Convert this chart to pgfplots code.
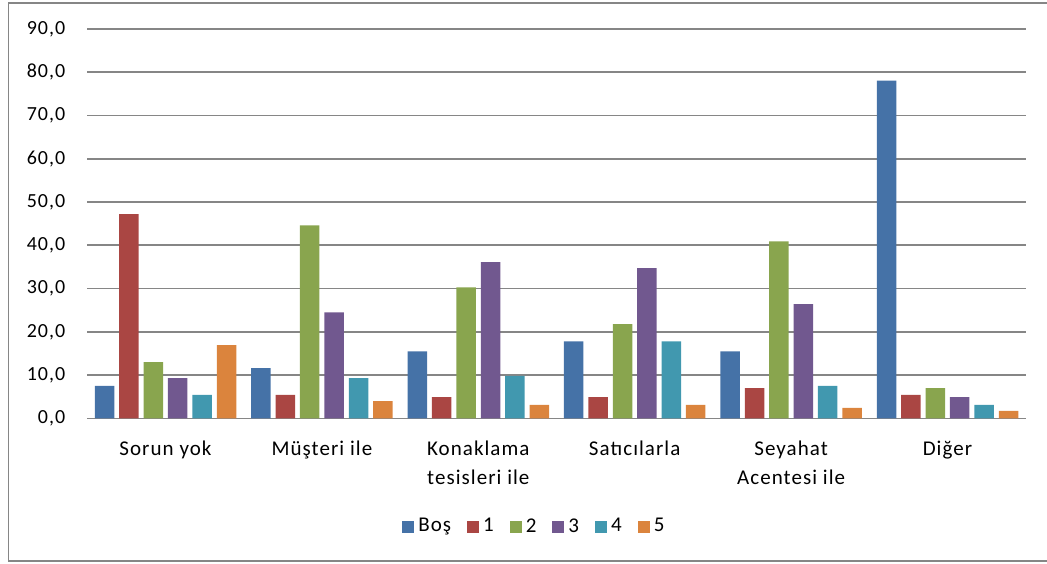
\documentclass[border=0pt]{standalone}
\usepackage{pgfplots}
\pgfplotsset{compat=1.18}
\usepackage{fontspec}
\setmainfont[LetterSpace=5]{Carlito}
\definecolor{cBos}{HTML}{4572A7}
\definecolor{cOne}{HTML}{AA4643}
\definecolor{cTwo}{HTML}{89A54E}
\definecolor{cThree}{HTML}{71588F}
\definecolor{cFour}{HTML}{4198AF}
\definecolor{cFive}{HTML}{DB843D}
\definecolor{gridgray}{HTML}{868686}
\begin{document}
\begin{tikzpicture}
\begin{axis}[
  at={(0pt,0pt)}, anchor=south west,
  scale only axis,
  width=469.2pt, height=194.65pt,
  ymin=0, ymax=90,
  xmin=-0.5, xmax=5.5,
  ytick={0,10,...,90},
  xtick={0,1,2,3,4,5},
  xticklabels={Sorun yok, Müşteri ile, {Konaklama\\tesisleri ile}, Satıcılarla, {Seyahat\\Acentesi ile}, Diğer},
  major tick length=0pt,
  axis x line*=bottom,
  axis y line*=left,
  y axis line style={draw=none},
  x axis line style={-, draw=gridgray, line width=0.8pt},
  ymajorgrids,
  major grid style={draw=gridgray, line width=0.8pt},
  ybar=2.45pt, bar width=9.75pt,
  /pgf/number format/.cd, fixed, fixed zerofill, precision=1, use comma, assume math mode=true,
  /pgfplots/.cd,
  yticklabel style={font=\fontsize{10pt}{12pt}\selectfont, xshift=-7.5pt},
  xticklabel style={font=\fontsize{10.5pt}{14.5pt}\selectfont, align=center, anchor=north, yshift=-8pt},
  legend style={at={(0.4775,-0.2785)}, anchor=center, draw=none, font=\fontsize{10.5pt}{12pt}\selectfont,
    legend columns=6, /tikz/every even column/.append style={column sep=6pt}},
  legend image code/.code={\fill[#1] (0pt,-3pt) rectangle (6pt,3pt);},
  every axis plot/.append style={draw=none},
]
\addplot[fill=cBos] coordinates {(0,7.5) (1,11.6) (2,15.5) (3,17.8) (4,15.5) (5,78.1)};
\addplot[fill=cOne] coordinates {(0,47.2) (1,5.4) (2,4.9) (3,4.9) (4,7.0) (5,5.4)};
\addplot[fill=cTwo] coordinates {(0,13.0) (1,44.6) (2,30.3) (3,21.8) (4,40.9) (5,7.0)};
\addplot[fill=cThree] coordinates {(0,9.3) (1,24.5) (2,36.1) (3,34.7) (4,26.4) (5,4.9)};
\addplot[fill=cFour] coordinates {(0,5.4) (1,9.3) (2,9.8) (3,17.8) (4,7.5) (5,3.1)};
\addplot[fill=cFive] coordinates {(0,16.9) (1,4.0) (2,3.1) (3,3.1) (4,2.4) (5,1.7)};
\legend{Boş, 1, 2, 3, 4, 5}
\end{axis}
\draw[gridgray, line width=0.7pt] (481pt,207.65pt) -- (-39.4pt,207.65pt) -- (-39.4pt,-71.35pt) -- (481pt,-71.35pt);
\pgfresetboundingbox
\useasboundingbox (-43.65pt,-72.35pt) rectangle (479.85pt,209.15pt);
\end{tikzpicture}
\end{document}
